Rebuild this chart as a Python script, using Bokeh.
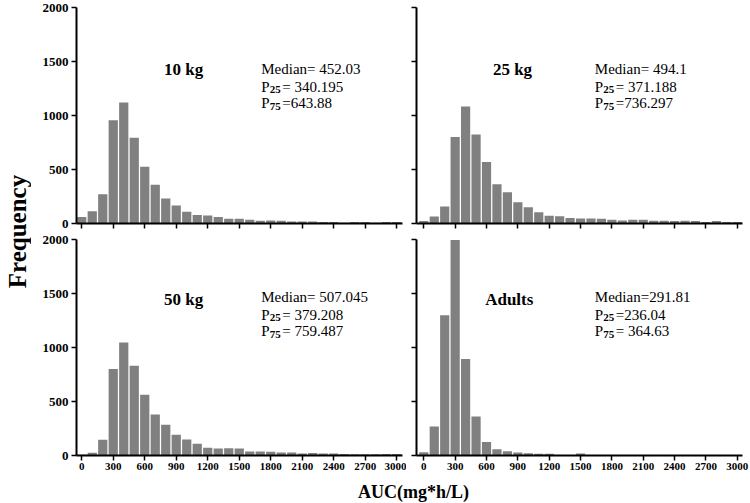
from bokeh.plotting import figure
from bokeh.layouts import row, column
from bokeh.models import Label, FixedTicker, Range1d, ColumnDataSource, CustomJSTickFormatter
from bokeh.embed import file_html
from bokeh.resources import INLINE

# ---- data ----
bin_centers = [0, 100, 200, 300, 400, 500, 600, 700, 800, 900, 1000,
               1100, 1200, 1300, 1400, 1500, 1600, 1700, 1800, 1900, 2000,
               2100, 2200, 2300, 2400, 2500, 2600, 2700, 2800, 2900, 3000]
freq_10kg = [60, 114, 270, 955, 1121, 793, 525, 358, 231, 166, 108, 78, 75, 60, 44, 44,
             34, 25, 28, 25, 19, 19, 19, 15, 15, 8, 15, 15, 6, 15, 15]
freq_25kg = [22, 65, 157, 800, 1083, 825, 569, 363, 289, 197, 151, 105, 71, 68, 52, 46,
             46, 43, 34, 28, 34, 34, 25, 25, 22, 25, 22, 15, 22, 15, 15]
freq_50kg = [6, 25, 145, 802, 1046, 830, 562, 380, 284, 191, 148, 108, 71, 65, 68, 65,
             37, 37, 34, 28, 28, 19, 22, 19, 19, 15, 12, 12, 12, 15, 15]
freq_adults = [30, 268, 1298, 1995, 894, 360, 126, 58, 40, 28, 21, 16, 16, 0, 0, 19,
               0, 0, 0, 0, 0, 0, 0, 0, 0, 0, 0, 0, 0, 0, 0]

x_ticks = [0, 300, 600, 900, 1200, 1500, 1800, 2100, 2400, 2700, 3000]
y_ticks = [0, 500, 1000, 1500, 2000]

panel_titles = ["10 kg", "25 kg", "50 kg", "Adults"]
medians = ["Median= 452.03", "Median= 494.1", "Median= 507.045", "Median=291.81"]
p25_vals = ["= 340.195", "= 371.188", "= 379.208", "=236.04"]
p75_vals = ["=643.88", "=736.297", "= 759.487", "= 364.63"]

FONT = "Liberation Serif"
BAR_COLOR = "#808080"
FRAME_H = 216


def panel(counts, idx, left, bottom):
    x_start = -50 if left else -70
    x_end = 3055 if left else 3050
    fw = 326
    p = figure(frame_width=fw, frame_height=FRAME_H,
               x_range=Range1d(x_start, x_end), y_range=Range1d(0, 2000),
               output_backend="svg", toolbar_location=None,
               min_border_left=45 if left else 10,
               min_border_right=4 if left else 7,
               min_border_top=7 if not bottom else 8,
               min_border_bottom=8,
               outline_line_color=None, background_fill_color="white",
               border_fill_color="white")
    src = ColumnDataSource(dict(x=bin_centers, top=counts))
    p.vbar(x="x", top="top", bottom=0, width=88, source=src,
           fill_color=BAR_COLOR, line_color=None)
    p.grid.visible = False
    for ax in (p.xaxis[0], p.yaxis[0]):
        ax.axis_line_color = "black"
        ax.axis_line_width = 2
        ax.major_tick_line_color = "black"
        ax.major_tick_line_width = 1.5
        ax.major_tick_out = 5
        ax.major_tick_in = 0
        ax.minor_tick_line_color = None
        ax.major_label_text_font = FONT
        ax.major_label_text_font_style = "bold"
        ax.major_label_text_color = "black"
    p.xaxis.ticker = FixedTicker(ticks=x_ticks)
    p.yaxis.ticker = FixedTicker(ticks=y_ticks)
    p.yaxis.major_label_text_font_size = "13px"
    p.xaxis.major_label_text_font_size = "11px"
    p.xaxis.major_label_standoff = 2
    p.yaxis.major_label_standoff = 3
    if not bottom:
        p.xaxis.formatter = CustomJSTickFormatter(code="return ''")
        p.xaxis.major_label_text_font_size = "1px"
        p.xaxis.major_label_standoff = 0
    if not left:
        p.yaxis.formatter = CustomJSTickFormatter(code="return ''")
        p.yaxis.major_label_text_font_size = "1px"
        p.yaxis.major_label_standoff = 0

    tx = 783 if left else (661 if idx == 1 else 587)
    mx = 1710 if left else 1637
    ys = (1422, 1434, 1266, 1113) if not bottom else (1440, 1470, 1303, 1150)
    p.add_layout(Label(x=tx, y=ys[0], text=panel_titles[idx], text_font=FONT,
                       text_font_style="bold", text_font_size="17px",
                       text_color="black", text_baseline="alphabetic"))
    p.add_layout(Label(x=mx, y=ys[1], text=medians[idx], text_font=FONT,
                       text_font_size="15px", text_color="black",
                       text_baseline="alphabetic"))
    for yv, sub, val in ((ys[2], "25", p25_vals[idx]), (ys[3], "75", p75_vals[idx])):
        p.add_layout(Label(x=mx, y=yv, text="P", text_font=FONT,
                           text_font_size="15px", text_color="black",
                           text_baseline="alphabetic"))
        p.add_layout(Label(x=mx, y=yv, x_offset=8.5, y_offset=-3, text=sub,
                           text_font=FONT, text_font_style="bold",
                           text_font_size="11px", text_color="black",
                           text_baseline="alphabetic"))
        p.add_layout(Label(x=mx, y=yv, x_offset=21, text=val, text_font=FONT,
                           text_font_size="15px", text_color="black",
                           text_baseline="alphabetic"))
    return p


tl = panel(freq_10kg, 0, True, False)
tr = panel(freq_25kg, 1, False, False)
bl = panel(freq_50kg, 2, True, True)
br = panel(freq_adults, 3, False, True)

grid = column(row(tl, tr), row(bl, br))

# "Frequency" as a y-axis label of a thin figure
freq_fig = figure(frame_width=1, frame_height=2 * FRAME_H + 30,
                  x_range=Range1d(0, 1), y_range=Range1d(0, 1),
                  output_backend="svg", toolbar_location=None,
                  min_border_left=0, min_border_right=0,
                  min_border_top=0, min_border_bottom=14,
                  outline_line_color=None)
freq_fig.xaxis.visible = False
freq_fig.grid.visible = False
ya = freq_fig.yaxis[0]
ya.ticker = FixedTicker(ticks=[])
ya.axis_line_color = None
ya.major_tick_out = 0
ya.major_tick_in = 0
ya.minor_tick_line_color = None
ya.axis_label = "Frequency"
ya.axis_label_text_font = FONT
ya.axis_label_text_font_style = "bold"
ya.axis_label_text_font_size = "25px"
ya.axis_label_text_color = "black"
ya.axis_label_standoff = 0

# "AUC(mg*h/L)" as an x-axis label of a thin figure
auc_fig = figure(frame_width=666, frame_height=1,
                 x_range=Range1d(0, 1), y_range=Range1d(0, 1),
                 output_backend="svg", toolbar_location=None,
                 min_border_left=80, min_border_right=0,
                 min_border_top=0, min_border_bottom=0,
                 outline_line_color=None)
auc_fig.yaxis.visible = False
auc_fig.grid.visible = False
xa = auc_fig.xaxis[0]
xa.ticker = FixedTicker(ticks=[])
xa.axis_line_color = None
xa.major_tick_out = 0
xa.major_tick_in = 0
xa.minor_tick_line_color = None
xa.axis_label = "AUC(mg*h/L)"
xa.axis_label_text_font = FONT
xa.axis_label_text_font_style = "bold"
xa.axis_label_text_font_size = "18px"
xa.axis_label_text_color = "black"
xa.axis_label_standoff = 4

layout = column(row(freq_fig, grid), auc_fig)

open("out.html", "w").write(file_html(layout, INLINE))
